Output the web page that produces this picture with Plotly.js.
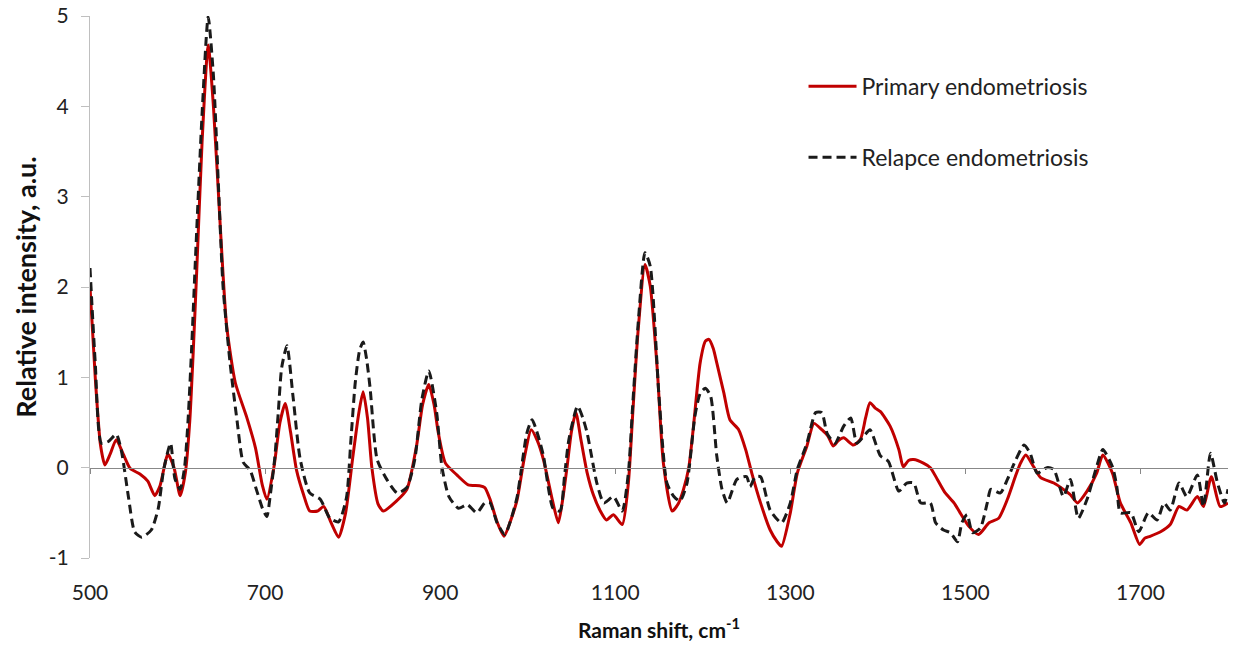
<!DOCTYPE html>
<html>
<head>
<meta charset="utf-8">
<script src="https://cdn.plot.ly/plotly-3.0.1.min.js"></script>
<style>html,body{margin:0;padding:0;background:#fff;}#chart{width:1238px;height:645px;}</style>
</head>
<body>
<div id="chart"></div>
<script>
// Primary endometriosis (red solid)
const primaryX = [500,506,512,517,523,530,538,546,557,566,574,580,589,596,603,609,614,618,622,628,635,641,649,656,666,679,689,697,702,710,717,723,729,736,744,751,760,767,775,784,792,800,807,812,817,822,829,835,850,862,873,880,887,893,898,906,919,932,945,951,957,965,973,980,988,996,1004,1011,1018,1028,1035,1040,1045,1050,1055,1061,1068,1075,1083,1090,1098,1108,1115,1120,1126,1134,1140,1148,1155,1165,1172,1178,1184,1189,1197,1203,1207,1212,1216,1224,1231,1241,1249,1256,1266,1277,1285,1290,1300,1308,1319,1327,1336,1343,1349,1355,1361,1372,1380,1386,1391,1397,1403,1414,1424,1429,1435,1441,1452,1460,1468,1477,1487,1494,1504,1515,1527,1538,1548,1557,1563,1569,1578,1586,1601,1612,1620,1628,1639,1650,1657,1668,1677,1689,1699,1705,1711,1723,1734,1744,1753,1765,1772,1781,1791,1800];
const primaryY = [2.0,1.0,0.25,0.03,0.15,0.31,0.15,-0.01,-0.07,-0.15,-0.31,-0.2,0.15,0.0,-0.31,-0.05,0.52,1.3,2.2,3.6,4.68,4.0,2.64,1.58,0.94,0.56,0.22,-0.2,-0.35,0.0,0.5,0.71,0.4,-0.03,-0.3,-0.48,-0.48,-0.43,-0.6,-0.77,-0.5,0.1,0.6,0.84,0.55,0.0,-0.4,-0.48,-0.37,-0.24,0.24,0.7,0.92,0.7,0.38,0.05,-0.08,-0.19,-0.2,-0.22,-0.35,-0.6,-0.76,-0.6,-0.35,0.1,0.42,0.3,0.09,-0.35,-0.61,-0.35,0.01,0.4,0.61,0.3,-0.06,-0.3,-0.48,-0.58,-0.52,-0.63,-0.17,0.6,1.5,2.25,2.01,1.09,0.05,-0.48,-0.4,-0.24,0.0,0.42,1.16,1.4,1.42,1.32,1.16,0.83,0.53,0.42,0.2,-0.06,-0.39,-0.69,-0.82,-0.87,-0.5,-0.06,0.24,0.49,0.42,0.35,0.24,0.3,0.33,0.25,0.31,0.55,0.72,0.66,0.62,0.46,0.2,0.01,0.08,0.09,0.05,0.0,-0.13,-0.28,-0.39,-0.5,-0.65,-0.74,-0.61,-0.56,-0.35,-0.1,0.05,0.14,0.01,-0.11,-0.17,-0.24,-0.3,-0.39,-0.26,-0.06,0.14,-0.06,-0.39,-0.61,-0.85,-0.78,-0.76,-0.71,-0.63,-0.43,-0.47,-0.32,-0.43,-0.1,-0.43,-0.39];

// Relapce endometriosis (black dashed)
const relapseX = [500,506,513,521,530,536,544,551,559,570,578,584,592,597,603,608,612,616,620,628,635,641,647,652,660,668,675,683,690,697,702,706,711,715,719,725,732,740,751,763,774,784,793,798,803,808,812,816,820,828,839,851,862,871,879,887,896,902,910,921,931,942,951,957,965,974,980,988,999,1005,1012,1018,1029,1037,1042,1047,1057,1063,1068,1079,1087,1098,1108,1115,1120,1127,1134,1140,1150,1159,1167,1174,1182,1191,1197,1203,1209,1216,1222,1228,1239,1250,1254,1260,1266,1277,1290,1300,1308,1319,1329,1336,1342,1351,1361,1369,1376,1384,1391,1403,1412,1424,1433,1441,1449,1460,1466,1475,1483,1491,1496,1502,1508,1517,1525,1529,1540,1548,1555,1567,1574,1582,1593,1601,1612,1620,1629,1639,1649,1657,1668,1673,1677,1689,1698,1709,1719,1727,1734,1744,1753,1765,1772,1780,1788,1796,1800];
const relapseY = [2.21,1.16,0.27,0.29,0.37,0.18,-0.33,-0.71,-0.77,-0.69,-0.45,-0.03,0.27,-0.12,-0.24,0.0,0.52,1.3,2.21,3.91,4.99,4.34,3.06,2.0,1.16,0.52,0.06,-0.03,-0.24,-0.45,-0.54,-0.3,0.1,0.6,1.11,1.35,0.78,0.1,-0.28,-0.35,-0.56,-0.6,-0.33,0.3,0.94,1.3,1.39,1.2,0.88,0.09,-0.13,-0.28,-0.22,0.09,0.75,1.07,0.61,0.01,-0.32,-0.45,-0.41,-0.5,-0.39,-0.39,-0.61,-0.74,-0.6,-0.32,0.38,0.53,0.35,0.13,-0.45,-0.48,-0.1,0.31,0.68,0.55,0.38,-0.17,-0.39,-0.32,-0.48,-0.06,0.7,1.7,2.38,2.23,0.79,-0.17,-0.32,-0.37,-0.17,0.57,0.82,0.88,0.79,0.13,-0.24,-0.39,-0.13,-0.1,-0.21,-0.1,-0.1,-0.47,-0.61,-0.39,-0.02,0.27,0.61,0.61,0.38,0.27,0.46,0.55,0.27,0.35,0.42,0.13,0.07,-0.26,-0.17,-0.17,-0.39,-0.39,-0.61,-0.69,-0.72,-0.82,-0.61,-0.52,-0.72,-0.67,-0.39,-0.24,-0.28,-0.13,0.03,0.25,0.16,-0.06,0.0,-0.02,-0.32,-0.13,-0.56,-0.35,-0.02,0.2,0.01,-0.21,-0.5,-0.5,-0.71,-0.5,-0.58,-0.39,-0.47,-0.17,-0.32,-0.08,-0.43,0.16,-0.17,-0.39,-0.24];

const xTicks = [500,700,900,1100,1300,1500,1700];
const yTicks = [-1,0,1,2,3,4,5];
const yTickText = ['-1','0','1','2','3','4','5'];

const FONT = 'Lato, "Open Sans", sans-serif';

const traces = [
  {x: primaryX, y: primaryY, type: 'scatter', mode: 'lines', name: 'Primary endometriosis',
   line: {color: '#C00000', width: 3, shape: 'spline', smoothing: 0.6}, legendgroup: 'a', legendrank: 1},
  {x: relapseX, y: relapseY, type: 'scatter', mode: 'lines', name: 'Relapce endometriosis',
   line: {color: '#1a1a1a', width: 3, dash: '9px,5px', shape: 'spline', smoothing: 0.6}, legendgroup: 'b', legendrank: 2},
  // invisible trace to carry the zero-crossing axis
  {x: [500,1800], y: [0,0], xaxis: 'x2', type: 'scatter', mode: 'lines', line: {width: 0}, showlegend: false, hoverinfo: 'skip'}
];

const layout = {
  width: 1238, height: 645,
  margin: {l: 90, r: 10, t: 16, b: 87},
  paper_bgcolor: '#fff', plot_bgcolor: '#fff',
  font: {family: FONT, color: '#222'},
  showlegend: true,
  legend: {x: 0.627, y: 0.91, xanchor: 'left', yanchor: 'top', traceorder: 'grouped', tracegroupgap: 38,
           font: {size: 23, family: FONT, color: '#222'}, itemwidth: 48, bgcolor: 'rgba(0,0,0,0)'},
  xaxis: {range: [500, 1800], tickvals: xTicks, ticktext: xTicks.map(String), ticks: '', showline: false,
          showgrid: false, zeroline: false, tickfont: {size: 21, family: FONT, color: '#222'},
          ticklabelstandoff: 20,
          title: {text: '<b>Raman shift, cm<sup>-1</sup></b>', font: {size: 21, family: FONT, color: '#111'}, standoff: 20}},
  xaxis2: {range: [500, 1800], overlaying: 'x', anchor: 'free', position: 1/6, tickvals: xTicks,
           showticklabels: false, ticks: 'outside', ticklen: 5, tickcolor: '#888', tickwidth: 1,
           showline: true, linecolor: '#888', linewidth: 1, showgrid: false, zeroline: false, side: 'bottom'},
  yaxis: {range: [-1, 5], tickvals: yTicks, ticktext: yTickText, ticks: 'outside', ticklen: 8, tickcolor: '#bfbfbf',
          showline: true, linecolor: '#bfbfbf', linewidth: 1, showgrid: false, zeroline: false,
          tickfont: {size: 21, family: FONT, color: '#222'}, ticklabelstandoff: 8,
          title: {text: '<b>Relative intensity, a.u.</b>', font: {size: 27, family: FONT, color: '#111'}, standoff: 4}}
};

Plotly.newPlot('chart', traces, layout, {displayModeBar: false, staticPlot: true});
</script>
</body>
</html>
